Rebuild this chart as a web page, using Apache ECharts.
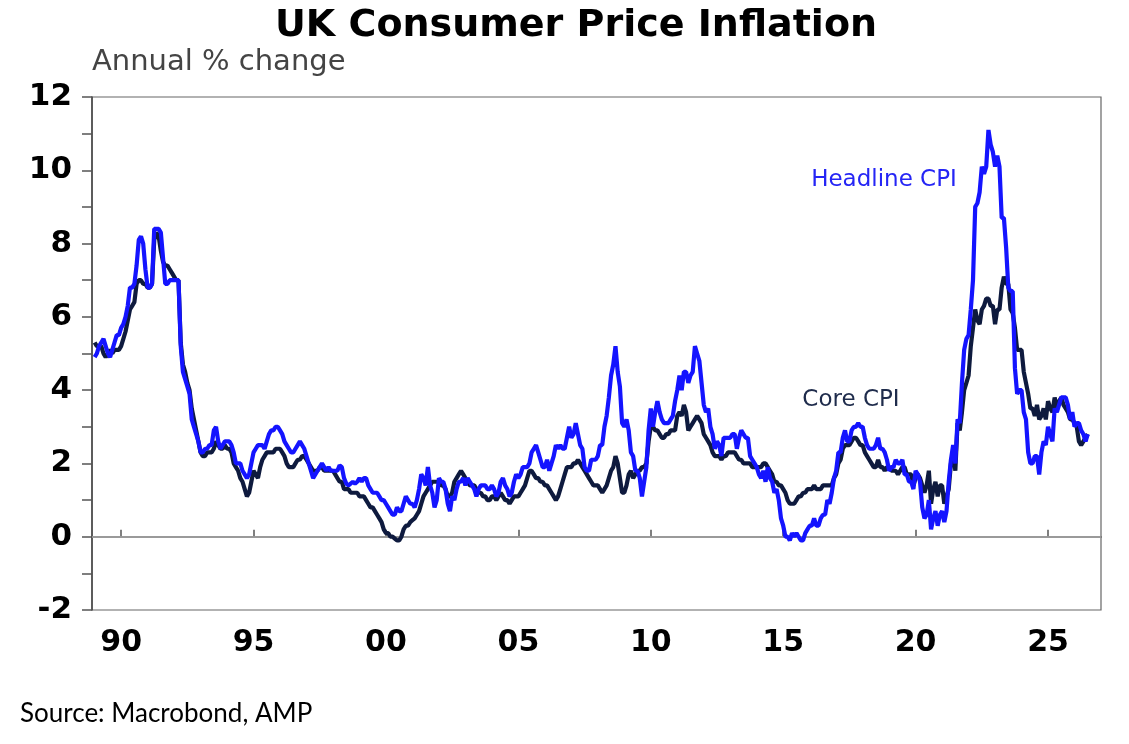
<!DOCTYPE html>
<html><head><meta charset="utf-8">
<script src="https://cdn.jsdelivr.net/npm/echarts@6/dist/echarts.min.js"></script>
<style>html,body{margin:0;padding:0;background:#fff}#c{width:1129px;height:744px}</style>
</head><body><div id="c"></div>
<script>
// Monthly annual % change, starting January 1989
const startYear = 1989;
const headline = [
  4.9,5.0,5.2,5.3,5.4,5.2,5.0,4.9,5.1,5.3,5.5,5.5,   // 1989
  5.7,5.8,6.0,6.3,6.8,6.8,6.9,7.4,8.1,8.2,8.0,7.3,   // 1990
  6.8,6.8,6.9,8.4,8.4,8.4,8.3,7.6,6.9,6.9,7.0,7.0,   // 1991
  7.0,7.0,7.0,5.2,4.5,4.3,4.1,3.9,3.2,3.0,2.8,2.6,   // 1992
  2.3,2.3,2.4,2.4,2.5,2.5,2.9,3.0,2.6,2.4,2.5,2.6,   // 1993
  2.6,2.6,2.5,2.3,2.0,2.0,2.0,1.8,1.7,1.6,1.7,2.0,   // 1994
  2.3,2.4,2.5,2.5,2.5,2.4,2.6,2.8,2.9,2.9,3.0,3.0,   // 1995
  2.9,2.8,2.6,2.5,2.4,2.3,2.3,2.4,2.5,2.6,2.5,2.4,   // 1996
  2.2,2.0,1.8,1.6,1.7,1.8,1.9,2.0,1.9,1.8,1.9,1.8,   // 1997
  1.8,1.8,1.8,1.95,1.9,1.6,1.45,1.4,1.45,1.5,1.45,1.5, // 1998
  1.6,1.5,1.6,1.6,1.4,1.3,1.2,1.2,1.2,1.1,1.0,1.0,   // 1999
  0.9,0.8,0.7,0.6,0.6,0.8,0.7,0.7,0.9,1.1,1.0,0.9,   // 2000
  0.9,0.8,1.0,1.3,1.7,1.6,1.4,1.9,1.4,1.2,0.8,1.0,   // 2001
  1.6,1.5,1.5,1.3,0.9,0.7,1.1,1.0,1.3,1.5,1.5,1.6,   // 2002
  1.4,1.6,1.5,1.4,1.3,1.1,1.3,1.4,1.4,1.4,1.3,1.3,   // 2003
  1.4,1.3,1.1,1.2,1.5,1.6,1.4,1.3,1.1,1.2,1.5,1.7,   // 2004
  1.6,1.7,1.9,1.9,1.9,2.0,2.3,2.4,2.5,2.3,2.1,1.9,   // 2005
  1.9,2.1,1.8,2.0,2.2,2.5,2.4,2.5,2.4,2.4,2.7,3.0,   // 2006
  2.7,2.8,3.1,2.8,2.5,2.4,1.9,1.8,1.8,2.1,2.1,2.1,   // 2007
  2.2,2.5,2.5,3.0,3.3,3.8,4.4,4.7,5.2,4.5,4.1,3.1,   // 2008
  3.0,3.2,2.9,2.3,2.2,1.8,1.8,1.6,1.1,1.5,1.9,2.9,   // 2009
  3.5,3.0,3.4,3.7,3.4,3.2,3.1,3.1,3.1,3.2,3.3,3.7,   // 2010
  4.0,4.4,4.0,4.5,4.5,4.2,4.4,4.5,5.2,5.0,4.8,4.2,   // 2011
  3.6,3.4,3.5,3.0,2.8,2.4,2.6,2.5,2.2,2.7,2.7,2.7,   // 2012
  2.7,2.8,2.8,2.4,2.7,2.9,2.8,2.7,2.7,2.2,2.1,2.0,   // 2013
  1.9,1.7,1.6,1.8,1.5,1.9,1.6,1.5,1.2,1.3,1.0,0.5,   // 2014
  0.3,0.0,0.0,-0.1,0.1,0.0,0.1,0.0,-0.1,-0.1,0.1,0.2, // 2015
  0.3,0.3,0.5,0.3,0.3,0.5,0.6,0.6,1.0,0.9,1.2,1.6,   // 2016
  1.8,2.3,2.3,2.7,2.9,2.6,2.6,2.9,3.0,3.0,3.1,3.0,   // 2017
  3.0,2.7,2.5,2.4,2.4,2.4,2.5,2.7,2.4,2.4,2.3,2.1,   // 2018
  1.8,1.9,1.9,2.1,2.0,2.0,2.1,1.7,1.7,1.5,1.5,1.3,   // 2019
  1.8,1.7,1.5,0.8,0.5,0.6,1.0,0.2,0.5,0.7,0.3,0.6,   // 2020
  0.7,0.4,0.7,1.5,2.1,2.5,2.0,3.2,3.1,4.2,5.1,5.4,   // 2021
  5.5,6.2,7.0,9.0,9.1,9.4,10.1,9.9,10.1,11.1,10.7,10.5, // 2022
  10.1,10.4,10.1,8.7,8.7,7.9,6.8,6.7,6.7,4.6,3.9,4.0, // 2023
  4.0,3.4,3.2,2.3,2.0,2.0,2.2,2.2,1.7,2.3,2.6,2.5,   // 2024
  3.0,2.8,2.6,3.5,3.4,3.6,3.8,3.8,3.8,3.6,3.2,3.4,   // 2025
  3.0,3.1,3.1,2.9,2.8,2.6,2.8                        // 2026
];
const core = [
  5.3,5.2,5.2,5.2,5.0,4.9,5.0,5.1,5.0,5.1,5.1,5.1,   // 1989
  5.2,5.4,5.6,5.9,6.2,6.3,6.4,6.9,7.0,7.0,6.9,6.9,   // 1990
  6.8,6.8,6.9,8.1,8.3,8.2,7.8,7.5,7.4,7.4,7.3,7.2,   // 1991
  7.1,7.0,7.0,5.3,4.7,4.5,4.2,4.0,3.5,3.2,2.9,2.6,   // 1992
  2.3,2.2,2.2,2.3,2.3,2.3,2.4,2.6,2.5,2.4,2.4,2.5,   // 1993
  2.4,2.4,2.3,2.0,1.9,1.8,1.6,1.5,1.3,1.1,1.2,1.5,   // 1994
  1.8,1.7,1.6,1.9,2.1,2.2,2.3,2.3,2.3,2.3,2.4,2.4,   // 1995
  2.4,2.3,2.2,2.0,1.9,1.9,1.9,2.0,2.1,2.1,2.2,2.2,   // 1996
  2.1,2.0,1.9,1.8,1.8,1.8,1.9,1.9,1.8,1.8,1.8,1.8,   // 1997
  1.8,1.7,1.6,1.5,1.5,1.3,1.3,1.3,1.2,1.2,1.2,1.2,   // 1998
  1.1,1.1,1.1,1.0,0.9,0.8,0.8,0.7,0.6,0.5,0.4,0.2,   // 1999
  0.1,0.1,0.0,0.0,-0.05,-0.1,-0.1,0.0,0.2,0.3,0.3,0.4, // 2000
  0.45,0.5,0.6,0.7,0.9,1.1,1.2,1.3,1.4,1.5,1.5,1.5,  // 2001
  1.5,1.4,1.4,1.3,1.1,1.1,1.2,1.5,1.6,1.7,1.8,1.7,   // 2002
  1.6,1.5,1.4,1.4,1.4,1.3,1.2,1.2,1.1,1.1,1.0,1.0,   // 2003
  1.1,1.1,1.0,1.1,1.2,1.1,1.0,1.0,0.9,1.0,1.1,1.1,   // 2004
  1.1,1.2,1.3,1.4,1.6,1.8,1.8,1.7,1.6,1.6,1.5,1.5,   // 2005
  1.4,1.4,1.3,1.2,1.1,1.0,1.1,1.3,1.5,1.7,1.9,1.9,   // 2006
  1.9,2.0,2.0,2.1,2.0,1.9,1.8,1.7,1.6,1.5,1.4,1.4,   // 2007
  1.4,1.3,1.2,1.3,1.4,1.6,1.8,1.9,2.2,2.0,1.6,1.2,   // 2008
  1.2,1.4,1.7,1.8,1.6,1.7,1.8,1.8,1.9,1.9,2.0,2.6,   // 2009
  3.0,3.0,2.9,2.9,2.8,2.7,2.7,2.8,2.8,2.9,2.9,2.9,   // 2010
  3.3,3.4,3.3,3.6,3.4,2.9,3.0,3.1,3.2,3.3,3.2,3.1,   // 2011
  2.8,2.7,2.6,2.5,2.3,2.2,2.2,2.2,2.1,2.2,2.2,2.3,   // 2012
  2.3,2.3,2.3,2.2,2.1,2.1,2.0,2.0,2.0,2.0,1.9,1.9,   // 2013
  1.9,1.9,1.9,2.0,2.0,1.9,1.8,1.7,1.5,1.5,1.4,1.4,   // 2014
  1.3,1.2,1.0,0.9,0.9,0.9,1.0,1.1,1.1,1.2,1.2,1.3,   // 2015
  1.3,1.3,1.4,1.3,1.3,1.3,1.4,1.4,1.4,1.4,1.4,1.6,   // 2016
  1.7,2.0,2.1,2.4,2.5,2.5,2.5,2.6,2.7,2.7,2.6,2.5,   // 2017
  2.5,2.3,2.2,2.1,2.0,1.9,1.9,2.1,1.9,1.9,1.8,1.9,   // 2018
  1.9,1.8,1.8,1.8,1.7,1.8,1.9,1.9,1.7,1.7,1.7,1.4,   // 2019
  1.6,1.7,1.6,1.4,1.2,1.4,1.8,0.9,1.3,1.5,1.1,1.4,   // 2020
  1.4,0.9,1.1,1.3,2.0,2.3,1.8,3.1,2.9,3.4,4.0,4.2,   // 2021
  4.4,5.2,5.7,6.2,5.9,5.8,6.2,6.3,6.5,6.5,6.3,6.3,   // 2022
  5.8,6.2,6.2,6.8,7.1,6.9,6.9,6.2,6.1,5.7,5.1,5.1,   // 2023
  5.1,4.5,4.2,3.9,3.5,3.5,3.3,3.6,3.2,3.3,3.5,3.2,   // 2024
  3.7,3.5,3.4,3.8,3.5,3.7,3.8,3.6,3.5,3.4,3.2,3.2,   // 2025
  3.1,3.0,2.6,2.5,2.6,2.7,2.8                        // 2026
];
const xTickYears = [1990,1995,2000,2005,2010,2015,2020,2025];
const seriesNames = ['Headline CPI','Core CPI'];

function toPairs(arr){ return arr.map((v,i)=>[startYear + i/12, v]); }

const chart = echarts.init(document.getElementById('c'), null, {renderer:'canvas'});
chart.setOption({
  animation:false,
  backgroundColor:'#fff',
  grid:{left:92, right:28, top:97, bottom:134, show:true, borderColor:'#666', borderWidth:1.2, backgroundColor:'transparent'},
  xAxis:{
    type:'value', min:1988.9, max:2027.0,
    axisLine:{show:true, lineStyle:{color:'#444', width:1.5}},
    axisTick:{show:true, inside:true, length:7, customValues:xTickYears, lineStyle:{color:'#555', width:1.5}},
    axisLabel:{customValues:xTickYears, margin:18, color:'#000', fontFamily:'DejaVu Sans', fontWeight:'bold', fontSize:30,
      formatter:v=>String(Math.round(v)%100).padStart(2,'0')},
    splitLine:{show:false}
  },
  yAxis:{
    type:'value', min:-2, max:12, interval:2,
    axisLine:{show:true, lineStyle:{color:'#444', width:1.5}},
    axisTick:{show:true, inside:false, length:10, lineStyle:{color:'#555', width:1.5}},
    minorTick:{show:true, splitNumber:2, length:10, lineStyle:{color:'#555', width:1.5}},
    axisLabel:{margin:20, color:'#000', fontFamily:'DejaVu Sans', fontWeight:'bold', fontSize:31},
    splitLine:{show:false}
  },
  series:[
    {name:seriesNames[1], type:'line', data:toPairs(core), showSymbol:false, symbol:'none',
     lineStyle:{color:'#0e1a3e', width:4.2}, z:2,
     markLine:{silent:true, symbol:'none', label:{show:false}, lineStyle:{color:'#a8a8a8', width:1.5, type:'solid'}, data:[{yAxis:0}], z:1}},
    {name:seriesNames[0], type:'line', data:toPairs(headline), showSymbol:false, symbol:'none',
     lineStyle:{color:'#1414ff', width:4.2}, z:3}
  ],
  graphic:[
    {type:'text', x:576, y:26, style:{text:'UK Consumer Price Inflation', fill:'#000', font:'bold 38px "DejaVu Sans"', textAlign:'center', textVerticalAlign:'middle'}},
    {type:'text', x:92, y:62, style:{text:'Annual % change', fill:'#444', font:'29px "DejaVu Sans"', textAlign:'left', textVerticalAlign:'middle'}},
    {type:'text', x:884, y:180, style:{text:seriesNames[0], fill:'#2525f5', font:'23px "DejaVu Sans"', textAlign:'center', textVerticalAlign:'middle'}},
    {type:'text', x:851, y:400, style:{text:seriesNames[1], fill:'#1f2c4c', font:'23px "DejaVu Sans"', textAlign:'center', textVerticalAlign:'middle'}},
    {type:'text', x:20, y:714, style:{text:'Source: Macrobond, AMP', fill:'#000', font:'26px Lato', textAlign:'left', textVerticalAlign:'middle'}}
  ]
});
</script></body></html>
